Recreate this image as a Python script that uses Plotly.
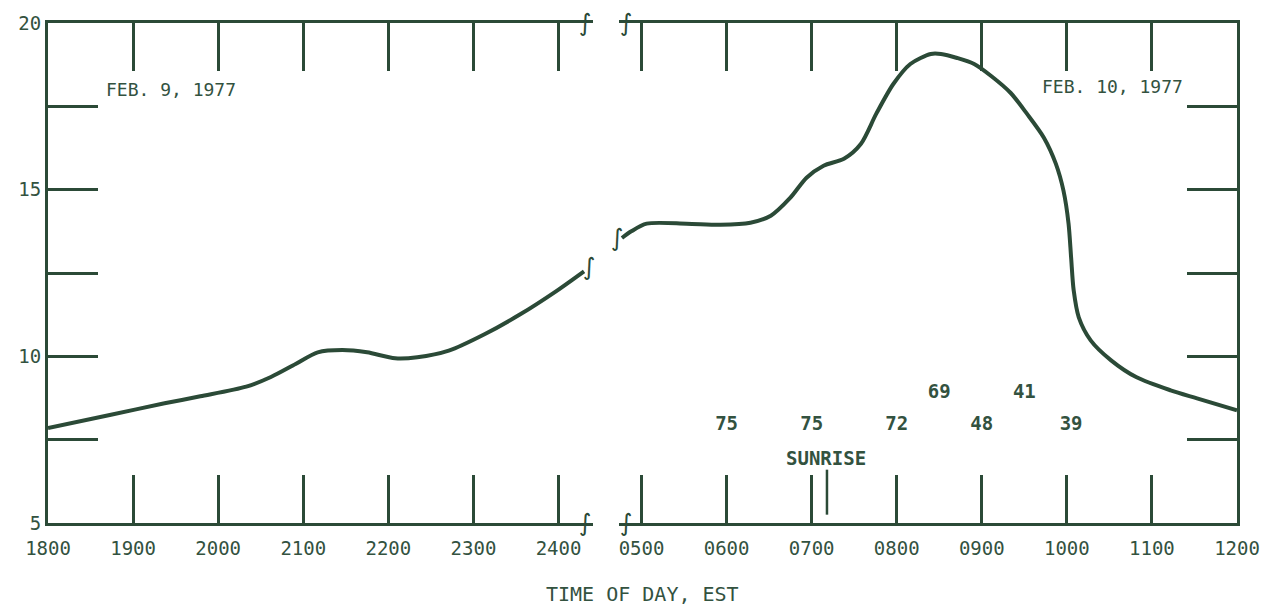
import plotly.graph_objects as go

# ---- data ----
feb9_hours = [18.0, 18.74, 19.37, 19.79, 20.33, 20.62, 20.91, 21.17, 21.46, 21.75,
              22.08, 22.34, 22.71, 23.13, 23.55, 23.97, 24.30]
feb9_values = [7.85, 8.25, 8.59, 8.80, 9.09, 9.38, 9.77, 10.12, 10.19, 10.12,
               9.94, 9.97, 10.17, 10.66, 11.26, 11.95, 12.55]

feb10_hours = [4.77, 4.88, 5.06, 5.53, 5.93, 6.28, 6.52, 6.75, 6.94, 7.14, 7.38, 7.58,
               7.76, 7.96, 8.16, 8.40, 8.52, 8.71, 8.91, 9.11, 9.34, 9.53, 9.73, 9.87,
               9.96, 10.02, 10.05, 10.08, 10.14, 10.28, 10.52, 10.82, 11.22, 11.53, 12.0]
feb10_values = [13.55, 13.75, 13.98, 13.98, 13.95, 14.01, 14.22, 14.76, 15.36, 15.72, 15.93, 16.38,
                17.28, 18.17, 18.77, 19.07, 19.07, 18.95, 18.77, 18.41, 17.90, 17.28, 16.56, 15.78,
                14.97, 13.98, 12.96, 11.98, 11.17, 10.48, 9.88, 9.37, 8.98, 8.74, 8.38]

left_tick_hours = [18, 19, 20, 21, 22, 23, 24]
left_tick_labels = ["1800", "1900", "2000", "2100", "2200", "2300", "2400"]
right_tick_hours = [5, 6, 7, 8, 9, 10, 11, 12]
right_tick_labels = ["0500", "0600", "0700", "0800", "0900", "1000", "1100", "1200"]
y_tick_values = [5, 7.5, 10, 12.5, 15, 17.5, 20]
y_tick_labels = ["5", "", "10", "", "15", "", "20"]

count_hours = [6.0, 7.0, 8.0, 9.0, 10.05, 8.5, 9.5]
count_levels = [7.93, 7.93, 7.93, 7.93, 7.93, 8.89, 8.89]
count_labels = ["75", "75", "72", "48", "39", "69", "41"]

sunrise_hour = 7.18
sunrise_mark = [5.25, 6.6]

left_range = [18, 24.40]
right_range = [4.732, 12]
y_range = [5, 20]

INK = "#2b4a37"
TXT = "#33523f"
FONT = "DejaVu Sans Mono"

fig = go.Figure()
fig.add_trace(go.Scatter(x=feb9_hours, y=feb9_values, mode="lines",
                         line=dict(color=INK, width=4, shape="spline", smoothing=0.8),
                         xaxis="x", yaxis="y", showlegend=False, hoverinfo="skip"))
fig.add_trace(go.Scatter(x=feb10_hours, y=feb10_values, mode="lines",
                         line=dict(color=INK, width=4, shape="spline", smoothing=0.8),
                         xaxis="x2", yaxis="y2", showlegend=False, hoverinfo="skip"))
fig.add_trace(go.Scatter(x=count_hours, y=count_levels, mode="text", text=count_labels,
                         textfont=dict(family=FONT, size=19, color=TXT, weight="bold"),
                         xaxis="x2", yaxis="y2", showlegend=False, hoverinfo="skip"))
fig.add_trace(go.Scatter(x=[sunrise_hour, sunrise_hour], y=sunrise_mark, mode="lines",
                         line=dict(color=INK, width=2.5),
                         xaxis="x2", yaxis="y2", showlegend=False, hoverinfo="skip"))

axis_common = dict(showgrid=False, zeroline=False, showline=True, linecolor=INK, linewidth=3,
                   ticks="inside", tickcolor=INK, tickwidth=2.5,
                   tickfont=dict(family=FONT, size=19, color=TXT))

fig.update_layout(
    width=1272, height=609,
    margin=dict(l=48, r=29, t=22, b=86),
    paper_bgcolor="white", plot_bgcolor="white",
    xaxis=dict(domain=[0, 0.458], range=left_range, tickvals=left_tick_hours,
               ticktext=left_tick_labels, ticklen=48, mirror="ticks", anchor="y",
               ticklabelstandoff=6, **axis_common),
    xaxis2=dict(domain=[0.480, 1], range=right_range, tickvals=right_tick_hours,
                ticktext=right_tick_labels, ticklen=48, mirror="ticks", anchor="y2",
                ticklabelstandoff=6, **axis_common),
    yaxis=dict(range=y_range, tickvals=y_tick_values, ticktext=y_tick_labels,
               ticklen=50, anchor="x", side="left", **axis_common),
    yaxis2=dict(range=y_range, tickvals=y_tick_values, ticktext=y_tick_labels,
                ticklen=50, anchor="x2", side="right", showticklabels=False,
                **axis_common),
)

sq = dict(text="∫", showarrow=False, yanchor="middle",
          font=dict(family="DejaVu Sans", size=24, color=INK))
fig.add_annotation(xref="x domain", yref="paper", x=1, y=1, xshift=1, **sq)
fig.add_annotation(xref="x2 domain", yref="paper", x=0, y=1, xshift=-1, **sq)
fig.add_annotation(xref="x domain", yref="paper", x=1, y=0, xshift=1, **sq)
fig.add_annotation(xref="x2 domain", yref="paper", x=0, y=0, xshift=-1, **sq)
fig.add_annotation(xref="x", yref="y", x=feb9_hours[-1], y=feb9_values[-1], xshift=5, yshift=4, **sq)
fig.add_annotation(xref="x2", yref="y2", x=feb10_hours[0], y=feb10_values[0], xshift=-4, **sq)

lab = dict(showarrow=False, font=dict(family=FONT, size=18, color=TXT))
fig.add_annotation(xref="x", yref="y", x=19.45, y=18.02, text="FEB. 9, 1977", **lab)
fig.add_annotation(xref="x2", yref="y2", x=10.54, y=18.11, text="FEB. 10, 1977", **lab)
fig.add_annotation(xref="x2", yref="y2", x=7.17, y=6.95, text="SUNRISE",
                   showarrow=False, font=dict(family=FONT, size=19, color=TXT, weight="bold"))
fig.add_annotation(xref="paper", yref="paper", x=0.5, y=-0.142, yanchor="middle",
                   text="TIME OF DAY, EST",
                   showarrow=False, font=dict(family=FONT, size=20, color=TXT))

fig.write_html("out.html")
